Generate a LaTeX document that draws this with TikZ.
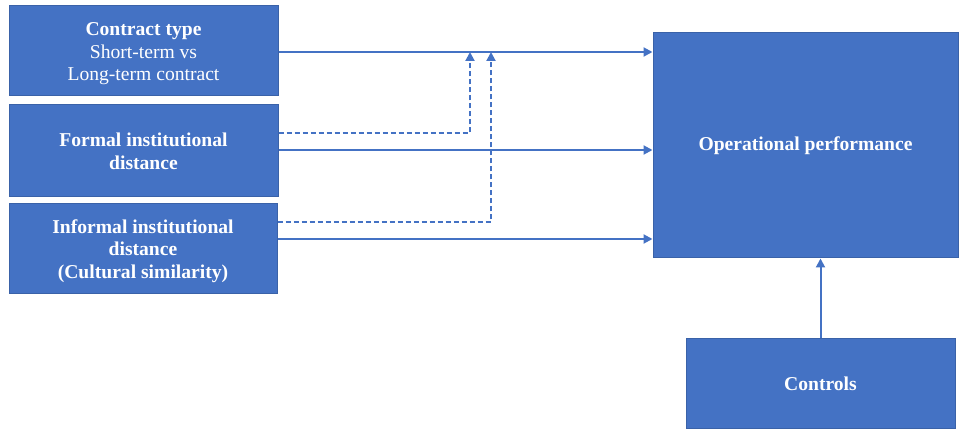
\documentclass[tikz,border=0pt]{standalone}
\usepackage{fontspec}
\setmainfont{Liberation Serif}
\usetikzlibrary{arrows.meta}
\definecolor{boxblue}{HTML}{4472C4}
\definecolor{boxedge}{HTML}{3A62A8}
\newcommand{\topstrut}{\rule{0pt}{19pt}}
\begin{document}
\begin{tikzpicture}[x=1pt,y=-1pt,
  blockbox/.style={draw=boxedge, line width=1pt, fill=boxblue, text=white,
    inner sep=0pt, align=center, font=\fontsize{19.6}{22.6}\selectfont},
  link/.style={draw=boxblue, line width=2pt, -{Triangle[length=9pt,width=9pt]}},
  modlink/.style={link, dash pattern=on 5pt off 3pt}]
  \useasboundingbox (0,0) rectangle (959,430);

  \node[blockbox, minimum width=269pt, minimum height=90pt] (ct) at (143.5,51)
    {\topstrut\textbf{Contract type}\\Short-term vs\\Long-term contract};
  \node[blockbox, minimum width=269pt, minimum height=92pt] (fd) at (143.5,151)
    {\textbf{Formal institutional}\\\textbf{distance}};
  \node[blockbox, minimum width=268pt, minimum height=89.5pt] (id) at (143,248.3)
    {\topstrut\textbf{Informal institutional}\\\textbf{distance}\\\textbf{(Cultural similarity)}};
  \node[blockbox, minimum width=305pt, minimum height=225pt] (op) at (805.5,145.5)
    {\textbf{Operational performance}};
  \node[blockbox, minimum width=269pt, minimum height=89pt] (co) at (820.5,383.5)
    {\textbf{Controls}};

  % direct effects
  \draw[link] (ct.east |- 0,52) -- (op.west |- 0,52);
  \draw[link] (fd.east |- 0,150) -- (op.west |- 0,150);
  \draw[link] (id.east |- 0,239) -- (op.west |- 0,239);

  % moderating paths onto the contract-type link
  \coordinate (m1) at (470,52);
  \coordinate (m2) at (491,52);
  \draw[modlink] (fd.east |- 0,133) -| (m1);
  \draw[modlink] (id.east |- 0,222) -| (m2);

  % controls
  \draw[link] (co.north) -- (op.south -| co.north);
\end{tikzpicture}
\end{document}
